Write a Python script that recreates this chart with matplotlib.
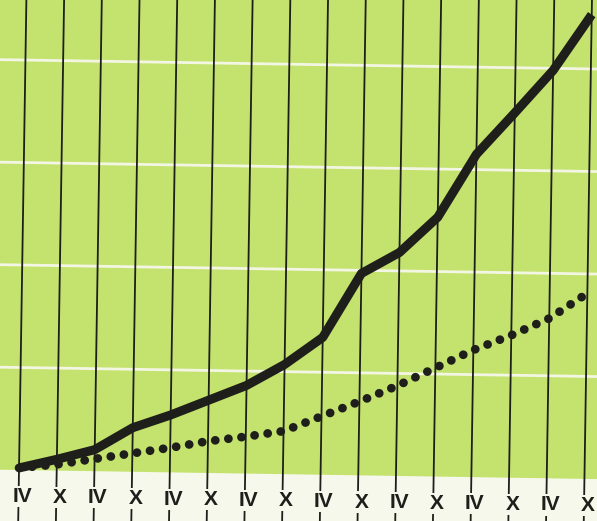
import numpy as np
import matplotlib.pyplot as plt
from matplotlib.transforms import Affine2D
from matplotlib.patches import Rectangle

# 半期ごとの目盛り (IV = 4月, X = 10月)
periods = ["IV", "X"] * 8
# 実線の系列 (目盛り線1本 = 1単位)
solid_vals = [0.02, 0.11, 0.21, 0.43, 0.56, 0.71, 0.86, 1.07,
              1.34, 1.97, 2.18, 2.53, 3.15, 3.56, 3.98, 4.53]
# 点線の系列
dotted_vals = [0.02, 0.06, 0.12, 0.18, 0.24, 0.31, 0.36, 0.42,
               0.57, 0.72, 0.88, 1.06, 1.24, 1.39, 1.56, 1.81]
grid_levels = [1, 2, 3, 4]

GREEN = "#c4e26e"
PAPER = "#f7f8ec"
INK = "#1e1e1a"

fig = plt.figure(figsize=(5.97, 5.21), dpi=100, facecolor=PAPER)
ax = fig.add_axes([0, 0, 1, 1])
ax.set_xlim(-19 / 37.7, 578 / 37.7)
ax.set_ylim(-51 / 102.5, 470 / 102.5)
ax.axis("off")

# スキャン原稿のわずかな傾きを再現
x0, y0 = ax.transData.transform((0, 0))
tilt = ax.transData + Affine2D().rotate_deg_around(x0, y0, -0.9)

# 緑の背景
ax.add_patch(Rectangle((-3, 0), 22, 8, facecolor=GREEN, edgecolor="none",
                       transform=tilt, zorder=0))

# 白い横線
for g in grid_levels:
    ax.plot([-3, 19], [g, g], color="#f3f6e2", lw=2.0, transform=tilt, zorder=1)

# 黒い縦線
for i in range(len(periods)):
    ax.plot([i, i], [-1, 6], color=INK, lw=1.3, transform=tilt, zorder=2)

x = np.arange(len(periods))
ax.plot(x, dotted_vals, color=INK, lw=6.3, ls=(0, (0.01, 1.5)),
        dash_capstyle="round", transform=tilt, zorder=3)
ax.plot(x, solid_vals, color=INK, lw=6.5, solid_joinstyle="round",
        solid_capstyle="butt", transform=tilt, zorder=4)

# 軸ラベル
for i, lab in enumerate(periods):
    ax.text(i + 0.1, -0.26, lab, ha="center", va="center", fontsize=15,
            fontweight="bold", family="Liberation Sans", color=INK,
            transform=tilt, zorder=5,
            bbox=dict(boxstyle="square,pad=0.05", fc=PAPER, ec="none"))

fig.savefig("out.png", dpi=100, facecolor=PAPER)
